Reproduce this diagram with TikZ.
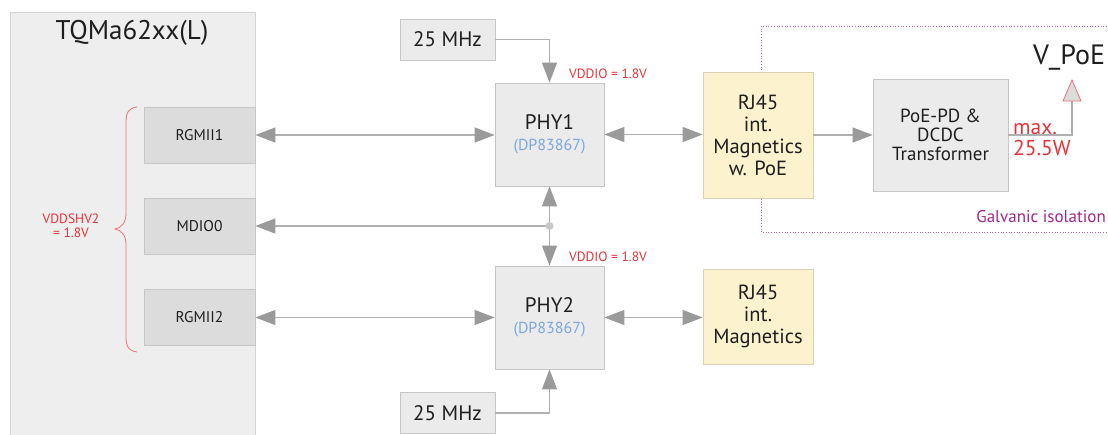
\documentclass[tikz,border=0pt]{standalone}
\usepackage{fontspec}
\setmainfont{PT Sans}
\usetikzlibrary{arrows.meta}
\definecolor{mainfill}{HTML}{EEEEEE}
\definecolor{mainline}{HTML}{D4D4D4}
\definecolor{subfill}{HTML}{DCDCDC}
\definecolor{subline}{HTML}{C6C6C6}
\definecolor{phyfill}{HTML}{EBEBEB}
\definecolor{rjfill}{HTML}{FCF2CE}
\definecolor{rjline}{HTML}{D9D1B2}
\definecolor{arrgray}{HTML}{9A9A9A}
\definecolor{lngray}{HTML}{B0B0B0}
\definecolor{txtred}{HTML}{E8333A}
\definecolor{txtblue}{HTML}{7BA7DA}
\definecolor{txtmag}{HTML}{A3238E}
\definecolor{txtdark}{HTML}{1E1E1E}
\tikzset{
  blk/.style={draw=subline, line width=0.8pt, inner sep=0pt, align=center, text=txtdark},
  subbox/.style={blk, fill=subfill, minimum width=111pt, minimum height=56pt, font=\fontsize{15.5}{18}\selectfont},
  phybox/.style={blk, fill=phyfill, minimum width=109pt, minimum height=103pt},
  xtalbox/.style={blk, fill=phyfill, minimum width=95pt, minimum height=41pt, font=\fontsize{21}{23}\selectfont},
  rjbox/.style={blk, draw=rjline, fill=rjfill, minimum width=110pt, font=\fontsize{20.5}{22}\selectfont},
  conn/.style={draw=lngray, line width=1.3pt},
  tip/.style={-{Triangle[length=20pt,width=15pt,color=arrgray]}},
  bitip/.style={{Triangle[length=20pt,width=15pt,color=arrgray]}-{Triangle[length=20pt,width=15pt,color=arrgray]}},
  redlbl/.style={text=txtred, inner sep=0pt},
}
\begin{document}
\begin{tikzpicture}[x=1pt,y=-1pt]
\useasboundingbox (0,0) rectangle (1108,434);
% galvanic isolation region
\draw[txtmag!70, line width=0.7pt, dotted] (1112,26) -- (761,26) -- (761,232) -- (1112,232);
\node[text=txtmag, anchor=east, inner sep=0pt, font=\fontsize{17}{19}\selectfont] (galv) at (1106,217) {Galvanic isolation};
% main module
\node[draw=mainline, fill=mainfill, line width=0.8pt, minimum width=245pt, minimum height=432pt, inner sep=0pt] (tqm) at (132.5,228) {};
\node[text=txtdark, inner sep=0pt, font=\fontsize{27}{30}\selectfont] (title) at (132,33) {TQMa62xx(L)};
\node[subbox] (rgmii1) at (199.5,135) {RGMII1};
\node[subbox] (mdio) at (199.5,226) {MDIO0};
\node[subbox] (rgmii2) at (199.5,317.5) {RGMII2};
% brace
\draw[txtred!70, line width=0.8pt] (137,107) .. controls (129,108) and (126,112) .. (126,122)
  -- (126,214) .. controls (126,223) and (121,228) .. (115,229)
  .. controls (121,230) and (126,235) .. (126,244)
  -- (126,337) .. controls (126,347) and (129,351) .. (137,352);
\node[redlbl, align=center, font=\fontsize{13.5}{14}\selectfont] (vddshv) at (71,226) {VDDSHV2\\= 1.8V};
% crystals
\node[xtalbox] (xtal1) at (447.5,39.5) {25 MHz};
\node[xtalbox] (xtal2) at (447.5,413) {25 MHz};
% PHYs
\node[phybox, font=\fontsize{21}{18}\selectfont] (phy1) at (549.5,134.5) {PHY1\\[3pt]{\color{txtblue}\fontsize{16}{18}\selectfont(DP83867)}};
\node[phybox, font=\fontsize{21}{18}\selectfont] (phy2) at (549.5,317.5) {PHY2\\[3pt]{\color{txtblue}\fontsize{16}{18}\selectfont(DP83867)}};
\node[redlbl, font=\fontsize{13.5}{14}\selectfont] (vddio1) at (608,74) {VDDIO = 1.8V};
\node[redlbl, font=\fontsize{13.5}{14}\selectfont] (vddio2) at (608,257) {VDDIO = 1.8V};
% RJ45
\node[rjbox, minimum height=126pt] (rj1) at (758,135) {RJ45\\int.\\Magnetics\\w. PoE};
\node[rjbox, minimum height=95pt] (rj2) at (758,316.5) {RJ45\\int.\\Magnetics};
% PoE
\node[blk, fill=phyfill, minimum width=135pt, minimum height=112pt, font=\fontsize{19}{19}\selectfont] (poe) at (940.5,135) {PoE-PD \&\\DCDC\\Transformer};
\node[redlbl, align=left, anchor=west, font=\fontsize{21.5}{21}\selectfont] (maxw) at (1013,140) {max.\\25.5W};
\node[text=txtdark, inner sep=0pt, font=\fontsize{28}{30}\selectfont] (vpoe) at (1069,57) {V\_PoE};
\coordinate (vtip) at (1072,101);
% connectors
\draw[conn, bitip] (rgmii1.east) -- (rgmii1.east -| phy1.west);
\draw[conn, bitip] (rgmii2.east) -- (rgmii2.east -| phy2.west);
\draw[conn, bitip] (phy1.east) -- (phy1.east -| rj1.west);
\draw[conn, bitip] (phy2.east) -- (phy2.east -| rj2.west);
\draw[conn, tip] (rj1.east) -- (rj1.east -| poe.west);
\draw[conn, tip] (xtal1.east) -| (phy1.north);
\draw[conn, tip] (xtal2.east) -| (phy2.south);
\coordinate (j) at (phy1.south |- mdio.east);
\draw[conn, tip] (j) -- (mdio.east);
\draw[conn, tip] (j) -- (phy1.south);
\draw[conn, tip] (j) -- (phy2.north);
\fill[subfill!80!gray] (j) circle (4pt);
\draw[conn] (poe.east) -| (vtip);
\draw[draw=txtred!70, fill=subfill, line width=0.8pt] (vtip) -- (1063,101) -- (1072,80) -- (1081,101) -- cycle;
\end{tikzpicture}
\end{document}
